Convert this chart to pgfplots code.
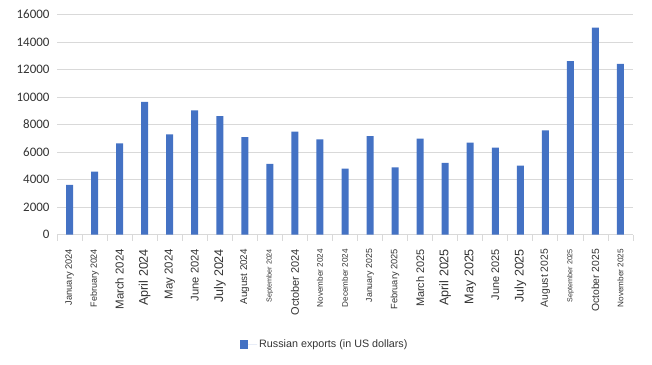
\documentclass[border=0pt]{standalone}
\usepackage{pgfplots}
\pgfplotsset{compat=1.18}
\usepackage{fontspec}
\setmainfont{Liberation Sans}
\newfontfamily\carlito{Carlito}
\definecolor{barblue}{HTML}{4472C4}
\definecolor{gridgray}{HTML}{D9D9D9}
\newcommand{\fs}[1]{\fontsize{#1}{#1}\selectfont}
\begin{document}
\begin{tikzpicture}
\useasboundingbox (0,0) rectangle (652bp,365bp);
\begin{axis}[
  at={(57bp,130.5bp)}, anchor=south west,
  scale only axis, width=576bp, height=220bp,
  xmin=-0.5, xmax=22.5, ymin=0, ymax=16000,
  axis x line*=bottom, axis y line*=left,
  y axis line style={draw=none},
  x axis line style={draw=gridgray, line width=0.8bp},
  ymajorgrids, grid style={draw=gridgray, line width=0.8bp},
  ytick={0,2000,...,16000},
  scaled y ticks=false,
  ytick style={draw=none},
  yticklabel style={font=\carlito\fs{13}, xshift=-4bp, text=black!80},
  /pgf/number format/assume math mode=true,
  /pgf/number format/1000 sep={},
  xtick={0,...,22},
  every major x tick/.style={draw=none},
  minor xtick={-0.5,0.5,...,22.5},
  every minor x tick/.style={draw=gridgray, line width=0.8bp},
  tick align=outside,
  minor tick length=6bp,
  major tick length=0pt,
  xticklabel style={rotate=90, anchor=east, xshift=-11bp, text=black!80},
  xticklabels={
    {\fs{9.3}January 2024},{\fs{9}February 2024},{\fs{11.5}March 2024},{\fs{12.6}April 2024},
    {\fs{11.5}May 2024},{\fs{11.2}June 2024},{\fs{12.6}July 2024},{\fs{9.9}August 2024},
    {\fs{7.2}September 2024},{\fs{11}October 2024},{\fs{8.2}November 2024},{\fs{8.2}December 2024},
    {\fs{8.8}January 2025},{\fs{9.3}February 2025},{\fs{11}March 2025},{\fs{12.6}April 2025},
    {\fs{12.6}May 2025},{\fs{11}June 2025},{\fs{12.6}July 2025},{\fs{10.4}August 2025},
    {\fs{7.2}September 2025},{\fs{10.4}October 2025},{\fs{8.2}November 2025}},
  legend style={at={(0.465,-0.5)}, anchor=center, draw=none, fill=none,
    font=\fs{10.8}, text=black!80},
  legend image code/.code={\fill[barblue] (0bp,-4bp) rectangle (8bp,4bp);
    \path (0bp,0bp) -- (17bp,0bp);},
]
\addplot[ybar, bar width=7bp, fill=barblue, draw=none] coordinates {
  (0,3600) (1,4570) (2,6630) (3,9640) (4,7290) (5,9030) (6,8600) (7,7090)
  (8,5130) (9,7480) (10,6920) (11,4790) (12,7160) (13,4890) (14,6970)
  (15,5200) (16,6680) (17,6310) (18,5010) (19,7580) (20,12600) (21,15040) (22,12400)
};
\addlegendentry{Russian exports (in US dollars)}
\end{axis}
\end{tikzpicture}
\end{document}
